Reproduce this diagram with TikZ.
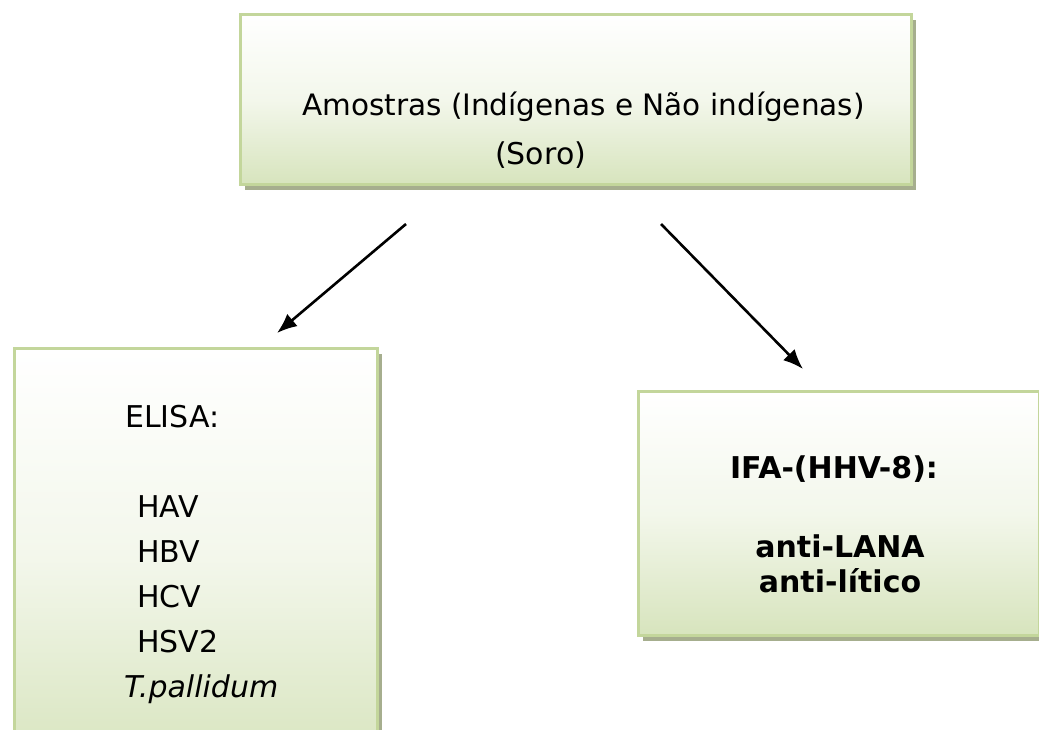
\documentclass[tikz,border=0pt]{standalone}
\usepackage{fontspec}
\setmainfont{DejaVu Sans}
\usetikzlibrary{arrows.meta,shadows}

\definecolor{bordaverde}{HTML}{C3D69B}
\definecolor{fundoverde}{HTML}{D7E4BD}
\definecolor{sombraverde}{HTML}{A6AE8E}

\tikzset{
	caixa/.style={draw=bordaverde, line width=3pt, rectangle, anchor=north west,
		top color=white, bottom color=fundoverde, middle color=fundoverde!30!white,
		drop shadow={shadow xshift=4pt, shadow yshift=-5pt, fill=sombraverde, opacity=1}},
	rotulo/.style={font=\fontsize{30}{36}\selectfont, inner sep=0pt},
	negrito/.style={rotulo, font=\fontsize{30}{36}\selectfont\bfseries},
	seta/.style={line width=2.6pt, -{Latex[length=20pt,width=16pt]}}
}

\begin{document}
\begin{tikzpicture}[x=1pt,y=-1pt]
		\useasboundingbox (0,0) rectangle (1039,729);
		
		% caixas
		\node (amostras) [caixa, minimum width=671pt, minimum height=170pt] at (239,13) {};
		\node (elisa) [caixa, minimum width=363pt, minimum height=420pt] at (13,347) {};
		\node (ifa) [caixa, minimum width=401pt, minimum height=244pt] at (637,390) {};
		
		% textos
		\node (t1) [rotulo, anchor=base west, font=\fontsize{29.5}{36}\selectfont] at (302,115) {Amostras (Indígenas e Não indígenas)};
		\node (t2) [rotulo, anchor=base west] at (495,164) {(Soro)};
		
		\node (e0) [rotulo, anchor=base west] at (125,427) {ELISA:};
		\foreach \nome/\y in {HAV/517, HBV/562, HCV/607, HSV2/652}
		{
			\node (e\nome) [rotulo, anchor=base west] at (137,\y) {\nome};
		}
		\node (e5) [rotulo, anchor=base west] at (124,697) {\textit{T.pallidum}};
		
		\node (i0) [negrito, anchor=base] at (834,478) {IFA-(HHV-8):};
		\node (i1) [negrito, anchor=base] at (840,557) {anti-LANA};
		\node (i2) [negrito, anchor=base] at (840,592) {anti-lítico};
		
		% setas
		\coordinate (sa) at (406,224);
		\coordinate (pa) at (277,333);
		\coordinate (sb) at (661,224);
		\coordinate (pb) at (803,369);
		\draw [seta] (sa) -- (pa);
		\draw [seta] (sb) -- (pb);
		
	\end{tikzpicture}
\end{document}
